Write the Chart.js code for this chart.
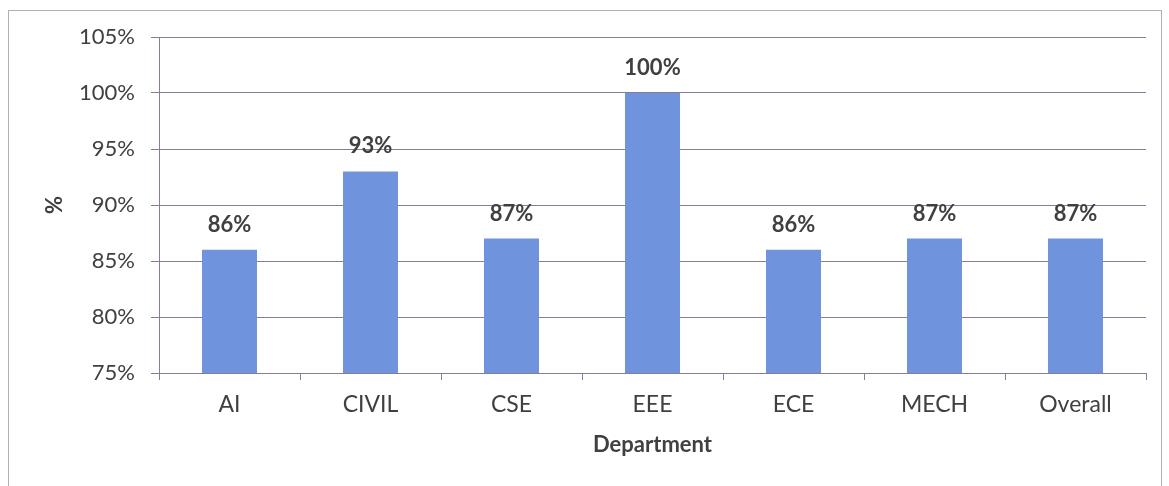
<!DOCTYPE html>
<html>
<head>
<meta charset="utf-8">
<script src="https://cdn.jsdelivr.net/npm/chart.js@4"></script>
<style>
  html, body { margin: 0; padding: 0; background: #fff; }
  #wrap { position: relative; width: 1169px; height: 486px; }
  #frame { position: absolute; left: 8px; top: 10px; width: 1154px; height: 480px; border: 1px solid #b7abc0; box-sizing: border-box; }
  canvas { position: absolute; left: 0; top: 0; }
</style>
</head>
<body>
<div id="wrap">
  <div id="frame"></div>
  <canvas id="deptChart" width="1169" height="486"></canvas>
</div>
<script>
// department pass percentages
const departments = ['AI', 'CIVIL', 'CSE', 'EEE', 'ECE', 'MECH', 'Overall'];
const passPercent = [86, 93, 87, 100, 86, 87, 87];
const yTicks = [75, 80, 85, 90, 95, 100, 105];

const FONT = 'Lato, "Open Sans", sans-serif';
const TEXT = '#404040';
const GRID = '#8a7b9a';

// draws the value above each bar
const barLabels = {
  id: 'barLabels',
  afterDatasetsDraw(chart) {
    const ctx = chart.ctx;
    const meta = chart.getDatasetMeta(0);
    ctx.save();
    ctx.font = 'bold 22px ' + FONT;
    ctx.fillStyle = TEXT;
    ctx.textAlign = 'center';
    ctx.textBaseline = 'middle';
    meta.data.forEach((bar, i) => {
      ctx.fillText(passPercent[i] + '%', bar.x, bar.y - 25);
    });
    ctx.restore();
  }
};

new Chart(document.getElementById('deptChart'), {
  type: 'bar',
  data: {
    labels: departments,
    datasets: [{
      data: passPercent,
      backgroundColor: '#6f93dc',
      borderWidth: 0,
      barPercentage: 0.39,
      categoryPercentage: 1
    }]
  },
  options: {
    responsive: false,
    animation: false,
    layout: { padding: { left: 0, top: 37, right: 23, bottom: 0 } },
    plugins: { legend: { display: false }, tooltip: { enabled: false } },
    scales: {
      y: {
        min: 75,
        max: 105,
        afterFit(scale) { scale.width = 159; },
        afterBuildTicks(scale) { scale.ticks = yTicks.map(v => ({ value: v })); },
        ticks: {
          color: TEXT,
          font: { family: FONT, size: 22 },
          padding: 16,
          callback: v => v + '%'
        },
        grid: { color: GRID, lineWidth: 1, tickLength: 8 },
        border: { color: GRID },
        title: {
          display: true,
          text: '%',
          color: TEXT,
          font: { family: FONT, size: 22, weight: 'bold' },
          padding: { top: 42, bottom: 0 }
        }
      },
      x: {
        afterFit(scale) { scale.height = 113; },
        ticks: {
          color: TEXT,
          font: { family: FONT, size: 23 },
          padding: 11
        },
        grid: { drawOnChartArea: false, drawTicks: true, tickLength: 7, color: GRID, offset: true },
        border: { color: GRID },
        title: {
          display: true,
          text: 'Department',
          color: TEXT,
          font: { family: FONT, size: 22, weight: 'bold' },
          padding: { top: 0, bottom: 28 }
        }
      }
    }
  },
  plugins: [barLabels]
});
</script>
</body>
</html>
